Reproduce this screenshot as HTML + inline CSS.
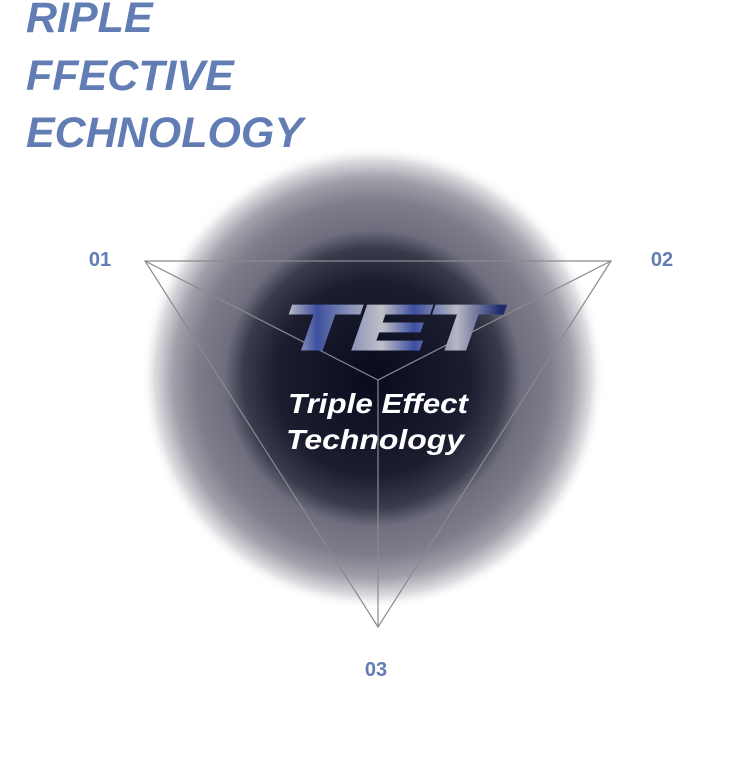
<!DOCTYPE html>
<html><head><meta charset="utf-8"><style>
html,body{margin:0;padding:0;background:#fff;width:737px;height:774px;overflow:hidden}
svg{display:block}
</style></head><body>
<svg width="737" height="774" viewBox="0 0 737 774">
<defs>
<radialGradient id="glow" cx="373" cy="378" r="232" gradientUnits="userSpaceOnUse">
<stop offset="0" stop-color="#080a1e"/>
<stop offset="0.42" stop-color="#1c1e30"/>
<stop offset="0.56" stop-color="#3a3b4c"/>
<stop offset="0.64" stop-color="#6e6e7e"/>
<stop offset="0.76" stop-color="#7c7c8a"/>
<stop offset="0.86" stop-color="#a0a0aa"/>
<stop offset="0.94" stop-color="#dcdce0"/>
<stop offset="1" stop-color="#ffffff" stop-opacity="0"/>
</radialGradient>
<linearGradient id="tetg" x1="285" y1="0" x2="500" y2="0" gradientUnits="userSpaceOnUse">
<stop offset="0" stop-color="#c8c8cc"/>
<stop offset="0.15" stop-color="#3d4f9e"/>
<stop offset="0.3" stop-color="#8890b8"/>
<stop offset="0.45" stop-color="#c0c0c8"/>
<stop offset="0.6" stop-color="#3d4f9e"/>
<stop offset="0.8" stop-color="#b8b8c4"/>
<stop offset="1" stop-color="#1f2b6e"/>
</linearGradient>
</defs>
<g font-family="Liberation Sans, sans-serif" font-weight="bold" font-style="italic" font-size="43" fill="#617db4">
<text x="26" y="32">RIPLE</text>
<text x="26" y="90">FFECTIVE</text>
<text x="26" y="147" textLength="277" lengthAdjust="spacingAndGlyphs">ECHNOLOGY</text>
</g>
<circle cx="373" cy="378" r="232" fill="url(#glow)"/>
<g stroke="#8a8a8e" stroke-width="1.2" fill="none">
<polygon points="145,261 611,261 378,627"/>
<line x1="145" y1="261" x2="378" y2="380"/>
<line x1="611" y1="261" x2="378" y2="380"/>
<line x1="378" y1="627" x2="378" y2="380"/>
</g>
<text x="284" y="349" font-family="Liberation Sans, sans-serif" font-weight="900" font-style="italic" font-size="62" fill="url(#tetg)" stroke="url(#tetg)" stroke-width="3" textLength="212" lengthAdjust="spacingAndGlyphs">TET</text>
<g font-family="Liberation Sans, sans-serif" font-weight="bold" font-style="italic" font-size="28" fill="#fff">
<text x="288" y="413" textLength="180" lengthAdjust="spacingAndGlyphs">Triple Effect</text>
<text x="286" y="449" textLength="178" lengthAdjust="spacingAndGlyphs">Technology</text>
</g>
<g font-family="Liberation Sans, sans-serif" font-weight="bold" font-size="20" fill="#617db4" text-anchor="middle">
<text x="100" y="266">01</text>
<text x="662" y="266">02</text>
<text x="376" y="676">03</text>
</g>
</svg>
</body></html>
